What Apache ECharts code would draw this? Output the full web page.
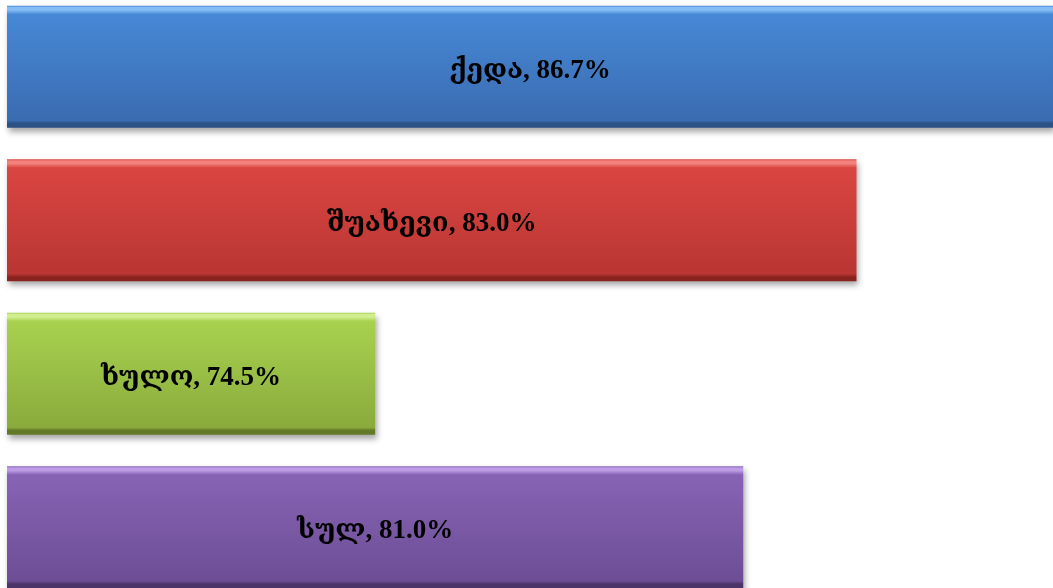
<!DOCTYPE html>
<html>
<head>
<meta charset="utf-8">
<script src="https://cdn.jsdelivr.net/npm/echarts@6/dist/echarts.min.js"></script>
<style>
  html, body { margin: 0; padding: 0; background: #fff; }
  #chart { width: 1053px; height: 588px; }
</style>
</head>
<body>
<div id="chart"></div>
<script>
// დასახელებები და მნიშვნელობები (ზემოდან ქვემოთ)
var categories = ["ქედა", "შუახევი", "ხულო", "სულ"];
var values = [86.7, 83.0, 74.5, 81.0];

// ზოლების ფერები: [ზედა ნათელი კიდე, ზედა, ქვედა, ქვედა მუქი კიდე]
var barColors = [
  ["#86bdf5", "#4788d6", "#3a6cb1", "#2c5185"],
  ["#f3827c", "#da4541", "#b93633", "#8a2320"],
  ["#d2ef90", "#a8d14f", "#8aab3c", "#627a28"],
  ["#bd9ce6", "#8763b5", "#6d4e95", "#4b3468"]
];

function bevel(c) {
  return {
    type: "linear", x: 0, y: 0, x2: 0, y2: 1,
    colorStops: [
      { offset: 0, color: c[1] },
      { offset: 0.015, color: c[0] },
      { offset: 0.035, color: c[0] },
      { offset: 0.07, color: c[1] },
      { offset: 0.94, color: c[2] },
      { offset: 0.965, color: c[3] },
      { offset: 1, color: c[3] }
    ]
  };
}

var chart = echarts.init(document.getElementById("chart"));
chart.setOption({
  animation: false,
  grid: {
    left: 7, right: 0, top: -10, height: 614,
    containLabel: false,
    outerBoundsMode: "none"
  },
  xAxis: {
    type: "value",
    min: 68,
    max: 86.47,
    show: false
  },
  yAxis: {
    type: "category",
    inverse: true,
    data: categories,
    show: false
  },
  series: [
    {
      type: "bar",
      barWidth: 122,
      clip: true,
      data: values.map(function (v, i) {
        return {
          value: v,
          itemStyle: {
            color: bevel(barColors[i]),
            shadowColor: "rgba(0,0,0,0.35)",
            shadowBlur: 6,
            shadowOffsetX: 2,
            shadowOffsetY: 4
          }
        };
      }),
      label: {
        show: true,
        position: "inside",
        offset: [0, 4],
        color: "#000",
        fontFamily: "'Liberation Serif', 'DejaVu Serif', serif",
        fontWeight: "bold",
        fontSize: 27,
        formatter: function (p) {
          return p.name + ", " + p.value.toFixed(1) + "%";
        }
      }
    }
  ]
});
</script>
</body>
</html>
